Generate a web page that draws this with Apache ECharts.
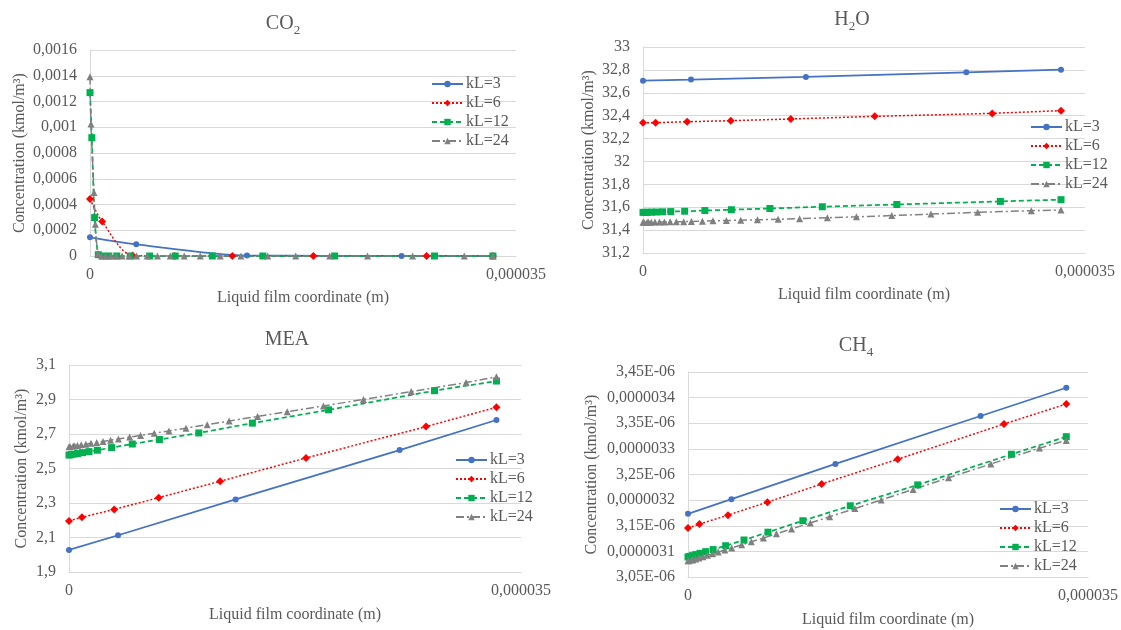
<!DOCTYPE html>
<html>
<head>
    <meta charset="utf-8">
    <title>Liquid film profiles</title>
    <script src="https://cdn.jsdelivr.net/npm/echarts@6/dist/echarts.min.js"></script>
</head>
<body style="margin:0;background:#fff;">
    <div id="main" style="width:1121px;height:630px;"></div>
    <script type="text/javascript">
        // film coordinate of every grid node, in micrometres (one grid per kL)
        var xKL3  = [0, 3.8, 12.9, 25.6, 33.1];
        var xKL6  = [0, 1.0, 3.5, 6.95, 11.7, 18.35, 27.65, 33.1];
        var xKL12 = [0, 0.15, 0.38, 0.68, 1.05, 1.55, 2.2, 3.3, 4.9, 7.0, 10.05, 14.2, 20.1, 28.3, 33.1];
        var xKL24 = [0, 0.08, 0.33, 0.44, 0.66, 0.95, 1.3, 1.7, 2.15, 2.64, 3.22, 3.83, 4.7, 5.54, 6.6,
                     7.74, 9.06, 10.7, 12.4, 14.6, 16.9, 19.7, 22.8, 26.5, 30.75, 33.1];

        // CO2 (kmol/m3)
        var co2KL3  = [0.000145, 0.0000906, 0.000004, 0.0000005, 0];
        var co2KL6  = [0.000443, 0.000267, 0.000004, 0, 0, 0, 0, 0];
        var co2KL12 = [0.001269, 0.000919, 0.000298, 0.00001, 0, 0, 0, 0, 0, 0, 0, 0, 0, 0, 0];
        var co2KL24 = [0.001393, 0.001025, 0.000494, 0.000246, 0.00002, 0, 0, 0, 0, 0, 0, 0, 0, 0, 0,
                       0, 0, 0, 0, 0, 0, 0, 0, 0, 0, 0];

        // H2O (kmol/m3)
        var h2oKL3  = [32.706, 32.715, 32.738, 32.779, 32.802];
        var h2oKL6  = [32.339, 32.339, 32.347, 32.356, 32.371, 32.394, 32.42, 32.444];
        var h2oKL12 = [31.555, 31.555, 31.556, 31.557, 31.558, 31.56, 31.562, 31.565, 31.571, 31.578,
                       31.589, 31.604, 31.624, 31.651, 31.666];
        var h2oKL24 = [31.468, 31.468, 31.468, 31.469, 31.469, 31.47, 31.47, 31.471, 31.472, 31.473,
                       31.474, 31.476, 31.478, 31.481, 31.484, 31.487, 31.49, 31.495, 31.5, 31.508,
                       31.516, 31.527, 31.54, 31.555, 31.57, 31.576];

        // MEA (kmol/m3)
        var meaKL3  = [2.028, 2.113, 2.321, 2.607, 2.781];
        var meaKL6  = [2.196, 2.217, 2.263, 2.331, 2.426, 2.561, 2.743, 2.855];
        var meaKL12 = [2.578, 2.580, 2.583, 2.587, 2.592, 2.598, 2.606, 2.621, 2.642, 2.668,
                       2.706, 2.763, 2.84, 2.951, 3.007];
        var meaKL24 = [2.626, 2.627, 2.630, 2.631, 2.634, 2.637, 2.641, 2.646, 2.651, 2.657,
                       2.664, 2.671, 2.682, 2.692, 2.705, 2.718, 2.734, 2.754, 2.775, 2.802,
                       2.829, 2.863, 2.900, 2.946, 2.998, 3.032];

        // CH4 (x 1e-6 kmol/m3)
        var ch4KL3  = [3.1733, 3.2019, 3.2706, 3.3641, 3.4193];
        var ch4KL6  = [3.1454, 3.1532, 3.1707, 3.196, 3.2317, 3.2798, 3.3485, 3.3875];
        var ch4KL12 = [3.089, 3.0902, 3.0917, 3.0937, 3.0962, 3.0995, 3.1035, 3.111, 3.1222, 3.1375,
                       3.1598, 3.189, 3.2297, 3.2895, 3.3238];
        var ch4KL24 = [3.0815, 3.0819, 3.0832, 3.0838, 3.0852, 3.0871, 3.0895, 3.0922, 3.0952, 3.0986,
                       3.1026, 3.1068, 3.1128, 3.1186, 3.1262, 3.1343, 3.1437, 3.1555, 3.1676, 3.1836,
                       3.2003, 3.2208, 3.2435, 3.2705, 3.3015, 3.3165];

        // tick labels as Excel printed them
        var xTicks   = ['0', '0,000035'];
        var co2Ticks = ['0', '0,0002', '0,0004', '0,0006', '0,0008', '0,001', '0,0012', '0,0014', '0,0016'];
        var h2oTicks = ['31,2', '31,4', '31,6', '31,8', '32', '32,2', '32,4', '32,6', '32,8', '33'];
        var meaTicks = ['1,9', '2,1', '2,3', '2,5', '2,7', '2,9', '3,1'];
        var ch4Ticks = ['3,05E-06', '0,0000031', '3,15E-06', '0,0000032', '3,25E-06', '0,0000033',
                        '3,35E-06', '0,0000034', '3,45E-06'];

        var names = ['kL=3', 'kL=6', 'kL=12', 'kL=24'];

        var FONT = 'Liberation Serif';
        var GREY = '#595959';
        var GRID_LINE = '#d9d9d9';

        var styles = {
            'kL=3':  {color: '#4472C4', symbol: 'circle',   symbolSize: 6, lineStyle: {width: 1.75, type: 'solid'}},
            'kL=6':  {color: '#FF0000', symbol: 'diamond',  symbolSize: 8, lineStyle: {width: 1.5, type: [2, 2]}},
            'kL=12': {color: '#00B050', symbol: 'rect',     symbolSize: 7, lineStyle: {width: 1.75, type: [5, 3]}},
            'kL=24': {color: '#808080', symbol: 'triangle', symbolSize: 7, lineStyle: {width: 1.5, type: [8, 3, 2, 3]}}
        };

        var panels = [
            {title: '{n|CO}{s|2}',  tx: 278, ty: 9,   grid: {left: 90,  top: 50,  width: 426, height: 206},
             min: 0,       max: 0.0016,  step: 0.0002,  scale: 1,    ticks: co2Ticks, yGap: 62, xGap: 34, smooth: 0.3,
             legend: {left: 431, top: 76},   ys: [co2KL3, co2KL6, co2KL12, co2KL24]},
            {title: '{n|H}{s|2}{n|O}', tx: 847, ty: 5, grid: {left: 643, top: 47,  width: 442, height: 206},
             min: 31.2,    max: 33,      step: 0.2,     scale: 1,    ticks: h2oTicks, yGap: 46, xGap: 34, smooth: false,
             legend: {left: 1030, top: 119}, ys: [h2oKL3, h2oKL6, h2oKL12, h2oKL24]},
            {title: '{n|MEA}',      tx: 282, ty: 325, grid: {left: 69,  top: 365, width: 452, height: 207},
             min: 1.9,     max: 3.1,     step: 0.2,     scale: 1,    ticks: meaTicks, yGap: 39, xGap: 35, smooth: false,
             legend: {left: 455, top: 452},  ys: [meaKL3, meaKL6, meaKL12, meaKL24]},
            {title: '{n|CH}{s|4}',  tx: 851, ty: 331, grid: {left: 688, top: 372, width: 402, height: 205},
             min: 3.05e-6, max: 3.45e-6, step: 0.05e-6, scale: 1e-6, ticks: ch4Ticks, yGap: 88, xGap: 35, smooth: false,
             legend: {left: 999, top: 501},  ys: [ch4KL3, ch4KL6, ch4KL12, ch4KL24]}
        ];
        var grids = [xKL3, xKL6, xKL12, xKL24];

        var option = {
            animation: false,
            backgroundColor: '#fff',
            textStyle: {fontFamily: FONT, color: GREY},
            title: [], legend: [], grid: [], xAxis: [], yAxis: [], series: []
        };

        panels.forEach(function (p, k) {
            option.title.push({
                text: p.title, left: p.tx, top: p.ty, textAlign: 'center',
                textStyle: {
                    fontWeight: 'normal',
                    rich: {
                        n: {fontFamily: FONT, fontSize: 20, fontWeight: 'normal', color: GREY, padding: [0, 0, 3, 0]},
                        s: {fontFamily: FONT, fontSize: 13, fontWeight: 'normal', color: GREY, verticalAlign: 'bottom', lineHeight: 13}
                    }
                }
            });
            option.legend.push({
                orient: 'vertical', left: p.legend.left, top: p.legend.top, padding: 0,
                itemWidth: 31, itemHeight: 8, itemGap: 3, data: names,
                textStyle: {fontFamily: FONT, fontSize: 16, lineHeight: 16, color: GREY, padding: [0, 0, 0, -2]}
            });
            option.grid.push(p.grid);
            option.xAxis.push({
                type: 'value', gridIndex: k, min: 0, max: 0.000035, interval: 0.000035,
                name: 'Liquid film coordinate (m)', nameLocation: 'middle', nameGap: p.xGap,
                nameTextStyle: {fontFamily: FONT, fontSize: 16, color: GREY},
                axisLine: {show: true, lineStyle: {color: GRID_LINE}},
                axisTick: {show: false}, splitLine: {show: false},
                axisLabel: {
                    fontFamily: FONT, fontSize: 16, color: GREY, margin: 11,
                    formatter: function (v) { return xTicks[Math.round(v / 0.000035)]; }
                }
            });
            option.yAxis.push({
                type: 'value', gridIndex: k, min: p.min, max: p.max, interval: p.step,
                name: 'Concentration (kmol/m³)', nameLocation: 'middle', nameRotate: 90, nameGap: p.yGap,
                nameTextStyle: {fontFamily: FONT, fontSize: 16, color: GREY},
                axisLine: {show: true, lineStyle: {color: GRID_LINE}},
                axisTick: {show: false},
                splitLine: {show: true, lineStyle: {color: GRID_LINE, width: 1}},
                axisLabel: {
                    fontFamily: FONT, fontSize: 16, color: GREY, margin: 13,
                    formatter: (function (ticks, min, step) {
                        return function (v) { return ticks[Math.round((v - min) / step)] || ''; };
                    })(p.ticks, p.min, p.step)
                }
            });
            names.forEach(function (nm, j) {
                var st = styles[nm];
                option.series.push({
                    type: 'line', name: nm, xAxisIndex: k, yAxisIndex: k,
                    smooth: p.smooth,
                    symbol: st.symbol, symbolSize: st.symbolSize, showSymbol: true,
                    itemStyle: {color: st.color},
                    lineStyle: {color: st.color, width: st.lineStyle.width, type: st.lineStyle.type},
                    data: grids[j].map(function (x, i) { return [x * 1e-6, p.ys[j][i] * p.scale]; })
                });
            });
        });

        var myChart = echarts.init(document.getElementById('main'));
        myChart.setOption(option);
    </script>
</body>
</html>
